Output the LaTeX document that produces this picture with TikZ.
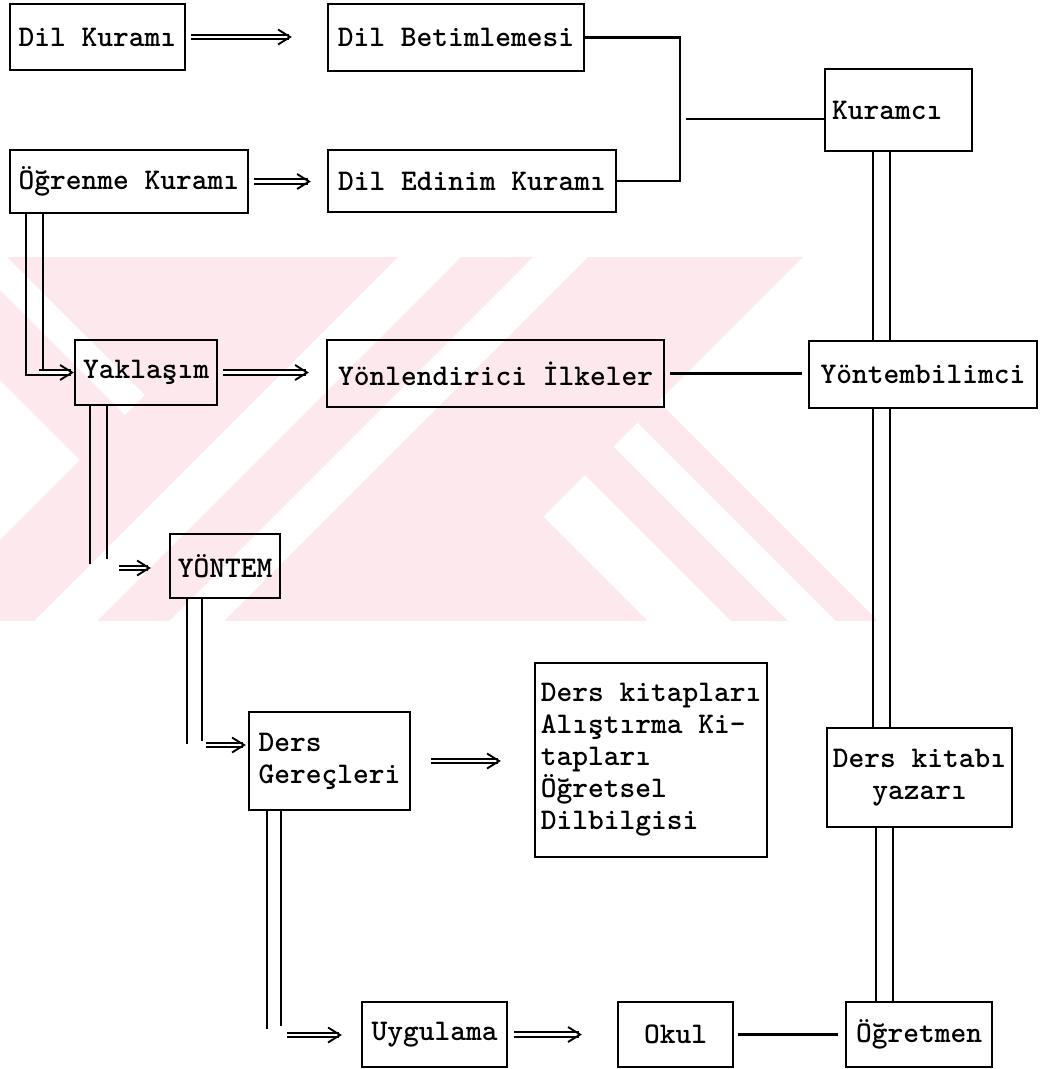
\documentclass[tikz,border=0pt]{standalone}
\usetikzlibrary{arrows.meta,calc}
\definecolor{wmpink}{RGB}{253,233,237}
% a rightward double-shafted arrow with an open head, from #1 to #2
\newcommand\twinarrow[2]{%
  \draw[twinshaft] (#1) -- ($(#2)+(-3,0)$);
  \draw[twinhead] ($(#2)+(-4,0)$) -- (#2);}
\begin{document}
\begin{tikzpicture}[x=1pt,y=-1pt,
  box/.style={draw, line width=2.3pt, inner sep=0pt,
    font=\ttfamily\bfseries\fontsize{30}{32}\selectfont},
  conn/.style={line width=2.2pt},
  twinshaft/.style={double, double distance=2.8pt, line width=1.7pt},
  twinhead/.style={line width=1.9pt, -{Straight Barb[length=12pt,width=15pt,line join=miter]}}]
\useasboundingbox (0,0) rectangle (1049,1069);

% background emblem: two crossing striped bars, seen through a horizontal band
\begin{scope}
  \clip (0,257) rectangle (1049,620);
  \foreach \a/\b in {540/655, 718/790, 845/1060}
    \fill[wmpink] (\a-250,250) -- (\b-250,250) -- (\b-650,650) -- (\a-650,650) -- cycle;
  \begin{scope}
    \clip (-1000,-1000) -- (1540,-1000) -- (-1000,1540) -- cycle;
    \foreach \c/\d in {-380/-290, -250/27}
      \fill[wmpink] (\c+250,250) -- (\d+250,250) -- (\d+650,650) -- (\c+650,650) -- cycle;
  \end{scope}
  \begin{scope}
    \clip (2060,-1000) -- (3000,3000) -- (-1000,2060) -- cycle;
    \foreach \c/\d in {-250/27, 110/167, 215/257}
      \fill[wmpink] (\c+250,250) -- (\d+250,250) -- (\d+650,650) -- (\c+650,650) -- cycle;
  \end{scope}
\end{scope}

% boxes
\node[box, minimum width=175pt, minimum height=66pt] (dk) at (97.5,37) {Dil Kuramı};
\node[box, minimum width=256pt, minimum height=67pt] (db) at (456,37.5) {Dil Betimlemesi};
\node[box, minimum width=238pt, minimum height=63pt] (ok) at (129,181.5) {Öğrenme Kuramı};
\node[box, minimum width=288pt, minimum height=62pt] (de) at (472,181) {Dil Edinim Kuramı};
\node[box, minimum width=147pt, minimum height=82pt, text width=133pt, align=left] (kur) at (898.5,110) {Kuramcı};
\node[box, minimum width=228pt, minimum height=67pt] (yb) at (923,374.5) {Yöntembilimci};
\node[box, minimum width=142pt, minimum height=65pt] (yak) at (146,372.5) {Yaklaşım};
\node[box, minimum width=337pt, minimum height=67pt] (yi) at (495.5,373.5) {Yönlendirici İlkeler};
\node[box, minimum width=110pt, minimum height=64pt] (yon) at (225,566) {YÖNTEM};
\node[box, minimum width=161pt, minimum height=98pt, align=left] (dg) at (329.5,761) {Ders\\Gereçleri};
\node[box, minimum width=232pt, minimum height=194pt, align=left] (kit) at (651,760)
  {Ders kitapları\\Alıştırma Ki-\\tapları\\Öğretsel\\Dilbilgisi};
\node[box, minimum width=185pt, minimum height=99pt, align=center] (yaz) at (919.5,777.5) {Ders kitabı\\yazarı};
\node[box, minimum width=145pt, minimum height=65pt] (uyg) at (434.5,1034.5) {Uygulama};
\node[box, minimum width=115pt, minimum height=65pt] (okul) at (675.5,1034.5) {Okul};
\node[box, minimum width=146pt, minimum height=65pt] (ogt) at (919,1034.5) {Öğretmen};

% horizontal double arrows between neighbouring boxes
\coordinate (a1s) at ($(dk.east)+(5,0)$);   \coordinate (a1e) at ($(dk.east -| db.west)+(-35,0)$);
\coordinate (a2s) at ($(ok.east)+(5,0)$);   \coordinate (a2e) at ($(ok.east -| de.west)+(-16,0)$);
\coordinate (a3s) at ($(yak.east)+(5,0)$);  \coordinate (a3e) at ($(yak.east -| yi.west)+(-17,0)$);
\coordinate (a4s) at ($(dg.east)+(20,0)$);  \coordinate (a4e) at ($(dg.east -| kit.west)+(-33,0)$);
\coordinate (a5s) at ($(uyg.east)+(6,0)$);  \coordinate (a5e) at ($(uyg.east -| okul.west)+(-35,0)$);
\twinarrow{a1s}{a1e}
\twinarrow{a2s}{a2e}
\twinarrow{a3s}{a3e}
\twinarrow{a4s}{a4e}
\twinarrow{a5s}{a5e}

% plain links
\coordinate (jn) at (680,0);
\draw[conn] (db.east) -| (jn |- de.east) -- (de.east);
\coordinate (kj) at (686,119);
\draw[conn] (kj) -- (kj -| kur.west);
\draw[conn, shorten <=5pt, shorten >=6pt] (yi.east) -- (yi.east -| yb.west);
\draw[conn, shorten <=4pt, shorten >=7pt] (okul.east) -- (okul.east -| ogt.west);

% rails of the left-hand chain
\coordinate (r1a) at (26,0);  \coordinate (r1b) at (43,0);
\coordinate (aY) at ($(yak.west)+(-35,0)$);
\coordinate (aYlo) at ($(aY)+(2,2.5)$);
\coordinate (aYhi) at ($(aY)+(0,-2.5)$);
\twinarrow{aY}{yak.west}
\draw[conn] (ok.south -| r1a) |- (aYlo);
\draw[conn] (ok.south -| r1b) -- (r1b |- aYhi);

\coordinate (r2a) at (90,0);  \coordinate (r2b) at (107,0);
\draw[conn] (yak.south -| r2a) -- ++(0,158);
\draw[conn] (yak.south -| r2b) -- ++(0,153);
\coordinate (aN) at ($(yon.west)+(-50,2)$);
\coordinate (aNe) at ($(aN -| yon.west)+(-18,0)$);
\twinarrow{aN}{aNe}

\coordinate (r3a) at (187,0); \coordinate (r3b) at (202,0);
\draw[conn] (yon.south -| r3a) -- ++(0,145);
\draw[conn] (yon.south -| r3b) -- ++(0,142);
\coordinate (aG) at (206,745);
\coordinate (aGe) at ($(aG -| dg.west)+(-2,0)$);
\twinarrow{aG}{aGe}

\coordinate (r4a) at (267,0); \coordinate (r4b) at (281,0);
\draw[conn] (dg.south -| r4a) -- ++(0,218);
\draw[conn] (dg.south -| r4b) -- ++(0,215);
\coordinate (aU) at (287,1035);
\coordinate (aUe) at ($(aU -| uyg.west)+(-19,0)$);
\twinarrow{aU}{aUe}

% rails of the right-hand chain
\coordinate (r5a) at (873,0); \coordinate (r5b) at (890,0);
\draw[conn] (kur.south -| r5a) -- (yb.north -| r5a);
\draw[conn] (kur.south -| r5b) -- (yb.north -| r5b);
\draw[conn] (yb.south -| r5a) -- (yaz.north -| r5a);
\draw[conn] (yb.south -| r5b) -- (yaz.north -| r5b);
\coordinate (r7a) at (876,0); \coordinate (r7b) at (893,0);
\draw[conn] (yaz.south -| r7a) -- (ogt.north -| r7a);
\draw[conn] (yaz.south -| r7b) -- (ogt.north -| r7b);
\end{tikzpicture}
\end{document}
